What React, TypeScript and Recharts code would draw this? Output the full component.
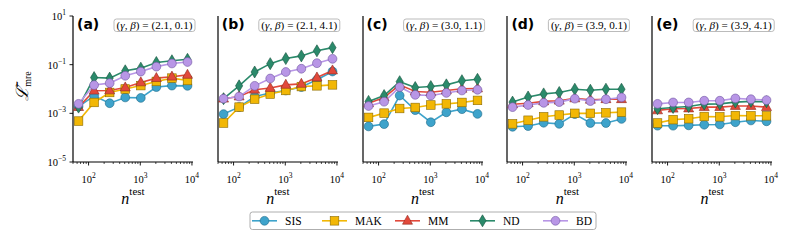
import React from "react";
import { LineChart, Line, XAxis, YAxis } from "recharts";

const N_TEST = [64, 128, 256, 512, 1024, 2048, 4096, 8192];

// panel (a) (γ, β) = (2.1, 0.1)
const A_SIS = [1.9e-3, 5.2e-3, 2.6e-3, 4.5e-3, 4.3e-3, 1.2e-2, 1.38e-2, 1.35e-2];
const A_MAK = [4.8e-4, 2.8e-3, 7.2e-3, 1.0e-2, 1.38e-2, 2.04e-2, 2.8e-2, 2.24e-2];
const A_MM = [1.8e-3, 8.5e-3, 8.7e-3, 1.15e-2, 1.86e-2, 2.8e-2, 3.2e-2, 3.8e-2];
const A_ND = [1.8e-3, 2.95e-2, 2.8e-2, 5.6e-2, 7.2e-2, 0.123, 0.145, 0.166];
const A_BD = [2.45e-3, 1.45e-2, 1.74e-2, 3.5e-2, 5.2e-2, 8.3e-2, 0.112, 0.129];

// panel (b) (2.1, 4.1)
const B_SIS = [9.3e-4, 1.8e-3, 4.9e-3, 6.8e-3, 8.7e-3, 1.2e-2, 2.4e-2, 5.25e-2];
const B_MAK = [4.0e-4, 1.8e-3, 3.8e-3, 6.2e-3, 8.7e-3, 1.26e-2, 1.35e-2, 1.48e-2];
const B_MM = [4.0e-3, 4.9e-3, 9.3e-3, 1.1e-2, 1.48e-2, 1.62e-2, 2.95e-2, 5.75e-2];
const B_ND = [4.0e-3, 1.35e-2, 5.0e-2, 0.11, 0.178, 0.229, 0.372, 0.5];
const B_BD = [4.0e-3, 4.9e-3, 1.35e-2, 2.7e-2, 5.0e-2, 6.8e-2, 0.115, 0.174];

// panel (c) (3.0, 1.1)
const C_SIS = [2.9e-4, 3.6e-4, 5.4e-3, 1.35e-3, 4.3e-4, 1.1e-3, 1.48e-3, 9.5e-4];
const C_MAK = [6.8e-4, 1.02e-3, 1.58e-3, 1.74e-3, 2.2e-3, 2.45e-3, 2.8e-3, 3.4e-3];
const C_MM = [2.6e-3, 4.5e-3, 1.48e-2, 7.9e-3, 7.4e-3, 8.7e-3, 1.02e-2, 1.05e-2];
const C_ND = [3.1e-3, 5.4e-3, 2.0e-2, 1.15e-2, 1.26e-2, 1.48e-2, 2.2e-2, 2.5e-2];
const C_BD = [2.0e-3, 3.0e-3, 1.2e-2, 5.75e-3, 5.4e-3, 6.9e-3, 8.7e-3, 9.3e-3];

// panel (d) (3.9, 0.1)
const D_SIS = [2.8e-4, 3.0e-4, 4.1e-4, 3.7e-4, 9.3e-4, 4.0e-4, 4.0e-4, 5.9e-4];
const D_MAK = [3.7e-4, 5.2e-4, 7.2e-4, 8.5e-4, 1.0e-3, 1.0e-3, 1.05e-3, 1.12e-3];
const D_MM = [2.35e-3, 2.6e-3, 3.1e-3, 3.3e-3, 4.1e-3, 3.6e-3, 3.8e-3, 3.8e-3];
const D_ND = [2.9e-3, 4.7e-3, 6.3e-3, 7.2e-3, 9.8e-3, 8.9e-3, 9.8e-3, 9.8e-3];
const D_BD = [1.8e-3, 2.2e-3, 2.7e-3, 2.9e-3, 4.0e-3, 3.2e-3, 3.8e-3, 4.5e-3];

// panel (e) (3.9, 4.1)
const E_SIS = [3.1e-4, 3.1e-4, 3.2e-4, 3.4e-4, 3.5e-4, 4.3e-4, 5.1e-4, 4.7e-4];
const E_MAK = [4.0e-4, 5.5e-4, 6.0e-4, 7.4e-4, 7.2e-4, 8.1e-4, 7.9e-4, 7.9e-4];
const E_MM = [1.32e-3, 1.55e-3, 1.58e-3, 1.8e-3, 1.8e-3, 2.0e-3, 2.0e-3, 1.8e-3];
const E_ND = [1.55e-3, 1.74e-3, 1.9e-3, 2.4e-3, 2.45e-3, 2.9e-3, 3.1e-3, 3.0e-3];
const E_BD = [2.45e-3, 2.8e-3, 2.8e-3, 3.3e-3, 3.3e-3, 4.1e-3, 3.8e-3, 3.5e-3];

const PANEL_LETTERS = ["(a)", "(b)", "(c)", "(d)", "(e)"];
const PANEL_PARAMS = ["(2.1, 0.1)", "(2.1, 4.1)", "(3.0, 1.1)", "(3.9, 0.1)", "(3.9, 4.1)"];
const PANEL_DATA = [
  [A_SIS, A_MAK, A_MM, A_ND, A_BD],
  [B_SIS, B_MAK, B_MM, B_ND, B_BD],
  [C_SIS, C_MAK, C_MM, C_ND, C_BD],
  [D_SIS, D_MAK, D_MM, D_ND, D_BD],
  [E_SIS, E_MAK, E_MM, E_ND, E_BD],
];

const SERIES = [
  { key: "SIS", color: "#3ea3cb", edge: "#1f6a88", shape: "circle" },
  { key: "MAK", color: "#f2b705", edge: "#8a6a00", shape: "square" },
  { key: "MM", color: "#e2493b", edge: "#8e2a20", shape: "triangle" },
  { key: "ND", color: "#2b8a6b", edge: "#17523e", shape: "diamond" },
  { key: "BD", color: "#b896e6", edge: "#6f55a0", shape: "circle" },
];

const X_MAJOR = [100, 1000, 10000];
const X_TICKS = [
  50, 60, 70, 80, 90, 100, 200, 300, 400, 500, 600, 700, 800, 900, 1000, 2000, 3000, 4000,
  5000, 6000, 7000, 8000, 9000, 10000,
];
const Y_TICKS = [1e-5, 1e-3, 1e-1, 10];

const SERIF = "'Liberation Serif', 'DejaVu Serif', serif";
const PLOT_LEFT = 73;
const PLOT_STEP = 144.8;
const PLOT_W = 120;
const PLOT_TOP = 16;
const PLOT_BOTTOM = 162;
const Y_AXIS_W = 50;
const RIGHT_PAD = 16;

function Marker({ cx, cy, shape, fill, edge }: any) {
  if (cx == null || cy == null) return null;
  if (shape === "square")
    return <rect x={cx - 4.3} y={cy - 4.3} width={8.6} height={8.6} fill={fill} stroke={edge} strokeWidth={0.6} />;
  if (shape === "triangle")
    return (
      <polygon
        points={`${cx},${cy - 5.6} ${cx - 5},${cy + 3.4} ${cx + 5},${cy + 3.4}`}
        fill={fill}
        stroke={edge}
        strokeWidth={0.6}
      />
    );
  if (shape === "diamond")
    return (
      <polygon
        points={`${cx},${cy - 6} ${cx + 3.6},${cy} ${cx},${cy + 6} ${cx - 3.6},${cy}`}
        fill={fill}
        stroke={edge}
        strokeWidth={0.6}
      />
    );
  return <circle cx={cx} cy={cy} r={4.4} fill={fill} stroke={edge} strokeWidth={0.6} />;
}

function sup(e: number) {
  return e < 0 ? `\u2212${-e}` : `${e}`;
}

function XTick({ x, y, payload }: any) {
  const v = payload.value;
  const major = X_MAJOR.includes(v);
  return (
    <g>
      <line x1={x} x2={x} y1={y} y2={y + (major ? 3.5 : 2)} stroke="#000" strokeWidth={major ? 0.9 : 0.7} />
      {major ? (
        <text x={x} y={y + 20.5} textAnchor="middle" fontFamily={SERIF} fontSize={10.5} fill="#000">
          10
          <tspan dy={-5} fontSize={7.5}>
            {sup(Math.round(Math.log10(v)))}
          </tspan>
        </text>
      ) : null}
    </g>
  );
}

function YTick({ x, y, payload }: any) {
  const e = Math.round(Math.log10(payload.value));
  return (
    <g>
      <line x1={x - 3.5} x2={x} y1={y} y2={y} stroke="#000" strokeWidth={0.9} />
      <text x={x - 7} y={y + 4} textAnchor="end" fontFamily={SERIF} fontSize={10.5} fill="#000">
        10
        <tspan dy={-5} fontSize={7.5}>
          {sup(e)}
        </tspan>
      </text>
    </g>
  );
}

function Panel({ idx }: { idx: number }) {
  const series = PANEL_DATA[idx];
  const rows = N_TEST.map((n, i) => {
    const r: any = { n };
    SERIES.forEach((s, k) => (r[s.key] = series[k][i]));
    return r;
  });
  const left = PLOT_LEFT + idx * PLOT_STEP - Y_AXIS_W;
  return (
    <div style={{ position: "absolute", left, top: 0 }}>
      <LineChart
        width={Y_AXIS_W + PLOT_W + RIGHT_PAD}
        height={200}
        data={rows}
        margin={{ top: PLOT_TOP, right: RIGHT_PAD, bottom: 0, left: 0 }}
      >
        <XAxis
          dataKey="n"
          type="number"
          scale="log"
          domain={[50, 10470]}
          allowDataOverflow
          ticks={X_TICKS}
          interval={0}
          height={200 - PLOT_BOTTOM}
          tickSize={0}
          tickMargin={0}
          tickLine={false}
          tick={<XTick />}
          axisLine={{ stroke: "#000", strokeWidth: 1.2 }}
        />
        <YAxis
          type="number"
          scale="log"
          domain={[1e-5, 10]}
          allowDataOverflow
          ticks={Y_TICKS}
          interval={0}
          width={Y_AXIS_W}
          tickSize={0}
          tickMargin={0}
          tickLine={false}
          tick={idx === 0 ? <YTick /> : false}
          axisLine={{ stroke: "#000", strokeWidth: 1.2 }}
        />
        {SERIES.map((s) => (
          <Line
            key={s.key}
            dataKey={s.key}
            type="linear"
            stroke={s.color}
            strokeWidth={1.6}
            isAnimationActive={false}
            dot={(p: any) => (
              <Marker key={`${s.key}-${p.index}`} cx={p.cx} cy={p.cy} shape={s.shape} fill={s.color} edge={s.edge} />
            )}
          />
        ))}
      </LineChart>
    </div>
  );
}

const LEGEND_X = [252, 322, 395, 470, 543];

export default function App() {
  return (
    <div style={{ position: "absolute", left: 0, top: 0, width: 793, height: 242, background: "#fff" }}>
      {PANEL_LETTERS.map((_, i) => (
        <Panel key={i} idx={i} />
      ))}
      <svg width={793} height={242} style={{ position: "absolute", left: 0, top: 0, pointerEvents: "none" }}>
        {PANEL_LETTERS.map((lab, i) => {
          const pl = PLOT_LEFT + i * PLOT_STEP;
          return (
            <g key={lab}>
              <text x={pl + 4} y={29} fontFamily="'DejaVu Sans', sans-serif" fontWeight="bold" fontSize={14} fill="#000">
                {lab}
              </text>
              <rect x={pl + 41} y={19} width={81} height={12.5} rx={2.5} fill="#fff" stroke="#aaa" strokeWidth={0.8} />
              <text
                x={pl + 81.5}
                y={28.8}
                textAnchor="middle"
                fontFamily={SERIF}
                fontSize={10.3}
                textLength={76}
                lengthAdjust="spacingAndGlyphs"
                fill="#000"
              >
                (<tspan fontStyle="italic">γ</tspan>, <tspan fontStyle="italic">β</tspan>) = {PANEL_PARAMS[i]}
              </text>
              <text x={pl + PLOT_W / 2} y={204} textAnchor="middle" fontFamily={SERIF} fill="#000">
                <tspan fontStyle="italic" fontSize={16}>
                  n
                </tspan>
                <tspan dy={-9} fontSize={11}>
                  test
                </tspan>
              </text>
            </g>
          );
        })}
        <text transform="translate(28,86) rotate(-90)" textAnchor="middle" fontFamily={SERIF} fill="#000">
          <tspan fontSize={17} fontStyle="italic">
            ℒ̄
          </tspan>
          <tspan fontSize={10} dy={3}>
            mre
          </tspan>
        </text>
        <rect x={250} y={212} width={346} height={17.5} rx={2.5} fill="#fff" stroke="#999" strokeWidth={0.8} />
        {SERIES.map((s, i) => {
          const x0 = LEGEND_X[i];
          return (
            <g key={s.key}>
              <line x1={x0} x2={x0 + 25} y1={220.8} y2={220.8} stroke={s.color} strokeWidth={1.6} />
              <Marker cx={x0 + 12.5} cy={220.8} shape={s.shape} fill={s.color} edge={s.edge} />
              <text x={x0 + 33} y={224.8} fontFamily={SERIF} fontSize={11.5} fill="#000">
                {s.key}
              </text>
            </g>
          );
        })}
      </svg>
    </div>
  );
}
